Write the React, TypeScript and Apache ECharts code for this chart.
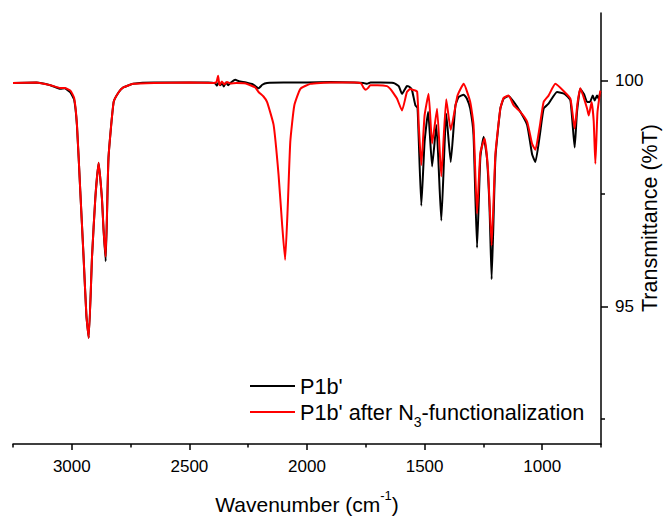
import React, { useEffect, useRef } from 'react';
import * as echarts from 'echarts';

// Wavenumber (cm-1) and transmittance (%T) for P1b'
const blackWn = [3250, 3150, 3091, 3049, 3030, 3006, 2990, 2978, 2964, 2950, 2938, 2928, 2914, 2900, 2886, 2872, 2865, 2856, 2844, 2822, 2800, 2781, 2739, 2650, 2500, 2420, 2390, 2383, 2375, 2368, 2360, 2354, 2345, 2335, 2326, 2305, 2290, 2260, 2230, 2206, 2190, 2170, 2100, 2000, 1900, 1800, 1760, 1745, 1730, 1688, 1632, 1610, 1596, 1585, 1575, 1561, 1553, 1539, 1530, 1514, 1500, 1485, 1468, 1450, 1429, 1408, 1389, 1369, 1355, 1334, 1320, 1306, 1292, 1277, 1263, 1249, 1235, 1224, 1215, 1199, 1178, 1164, 1143, 1121, 1093, 1064, 1043, 1029, 1010, 994, 973, 937, 905, 880, 862, 852, 838, 822, 809, 797, 785, 777, 767, 760, 753];
const blackT = [99.95, 99.96, 99.9, 99.82, 99.83, 99.74, 99.58, 99.0, 97.56, 96.1, 94.8, 94.3, 96.1, 97.4, 98.18, 97.4, 96.7, 96.0, 98.29, 99.53, 99.75, 99.85, 99.93, 99.96, 99.96, 99.96, 99.94, 99.89, 99.97, 99.9, 99.95, 99.87, 99.96, 99.9, 99.95, 100.02, 99.99, 99.96, 99.92, 99.83, 99.91, 99.95, 99.96, 99.96, 99.97, 99.96, 99.95, 99.93, 99.96, 99.96, 99.95, 99.88, 99.71, 99.8, 99.88, 99.85, 99.78, 99.45, 99.4, 97.23, 98.65, 99.31, 98.1, 99.02, 96.9, 99.27, 98.2, 99.45, 99.64, 99.69, 99.6, 99.38, 98.8, 96.3, 98.3, 98.76, 98.29, 97.19, 95.6, 98.29, 99.38, 99.6, 99.66, 99.53, 99.31, 99.02, 98.37, 98.2, 98.8, 99.38, 99.49, 99.75, 99.71, 99.56, 98.52, 99.31, 99.82, 99.7, 99.53, 99.53, 99.67, 99.56, 99.67, 99.6, 99.75];

// Wavenumber (cm-1) and transmittance (%T) for P1b' after N3-functionalization
const redWn = [3250, 3150, 3091, 3049, 3030, 3006, 2990, 2978, 2964, 2950, 2938, 2928, 2914, 2900, 2886, 2872, 2865, 2856, 2844, 2822, 2800, 2781, 2739, 2650, 2500, 2400, 2385, 2378, 2372, 2362, 2352, 2340, 2326, 2300, 2260, 2241, 2220, 2206, 2185, 2170, 2142, 2121, 2106, 2093, 2082, 2071, 2054, 2028, 1986, 1900, 1800, 1770, 1759, 1750, 1740, 1731, 1700, 1660, 1646, 1632, 1617, 1596, 1575, 1561, 1553, 1532, 1525, 1514, 1500, 1483, 1468, 1447, 1429, 1408, 1389, 1360, 1334, 1306, 1292, 1277, 1263, 1245, 1230, 1215, 1199, 1178, 1164, 1143, 1121, 1093, 1064, 1043, 1029, 1010, 994, 973, 944, 905, 880, 862, 850, 838, 809, 802, 790, 781, 774, 765, 753];
const redT = [99.95, 99.96, 99.9, 99.84, 99.84, 99.78, 99.62, 99.02, 97.56, 96.1, 94.8, 94.3, 96.1, 97.4, 98.18, 97.4, 96.7, 96.1, 98.29, 99.53, 99.75, 99.85, 99.93, 99.95, 99.96, 99.95, 99.97, 100.11, 99.9, 99.98, 99.92, 99.97, 99.94, 99.95, 99.94, 99.9, 99.85, 99.75, 99.65, 99.53, 99.02, 97.92, 96.83, 96.03, 97.19, 98.65, 99.45, 99.82, 99.93, 99.96, 99.96, 99.94, 99.84, 99.8, 99.84, 99.9, 99.9, 99.88, 99.82, 99.72, 99.6, 99.34, 99.75, 99.82, 99.8, 99.76, 99.02, 98.13, 99.23, 99.71, 98.61, 99.38, 97.88, 99.59, 98.91, 99.67, 99.93, 99.53, 99.02, 97.05, 98.4, 98.72, 98.0, 96.35, 98.37, 99.38, 99.62, 99.67, 99.45, 99.31, 99.09, 98.6, 98.47, 99.0, 99.53, 99.67, 99.93, 99.75, 99.6, 98.94, 99.5, 99.83, 99.38, 99.23, 99.53, 99.1, 98.16, 99.3, 99.78];

const seriesNames = ["P1b'", "P1b' after N3-functionalization"];
const seriesColors = ['#000000', '#ff0000'];

const xMajorTicks = [3000, 2500, 2000, 1500, 1000];
const xMinorTicks = [3250, 2750, 2250, 1750, 1250, 750];
const yMajorTicks = [95, 100];
const yMinorTicks = [92.5, 97.5];

const FONT = "'Liberation Sans', Arial, Helvetica, sans-serif";

export default function App() {
  const ref = useRef<HTMLDivElement>(null);

  useEffect(() => {
    document.body.style.margin = '0';
    if (!ref.current) return;
    const chart = echarts.init(ref.current, undefined, { renderer: 'svg' });

    const zip = (a: number[], b: number[]) => a.map((v, i) => [v, b[i]]);
    const xBase = {
      type: 'value' as const,
      min: 750,
      max: 3250,
      inverse: true,
      position: 'bottom' as const,
      splitLine: { show: false },
    };
    const yBase = {
      type: 'value' as const,
      min: 91.95,
      max: 101.5,
      position: 'right' as const,
      splitLine: { show: false },
    };

    const option: any = {
      animation: false,
      backgroundColor: '#ffffff',
      grid: { left: 13, right: 64, top: 13, bottom: 70, containLabel: false },
      xAxis: [
        {
          ...xBase,
          axisLine: { show: true, onZero: false, lineStyle: { color: '#000', width: 1.5 } },
          axisTick: { show: true, customValues: xMajorTicks, length: 6, lineStyle: { color: '#000', width: 1.5 } },
          axisLabel: {
            customValues: xMajorTicks,
            formatter: (v: number) => String(v),
            fontSize: 17,
            color: '#000',
            margin: 14,
            fontFamily: FONT,
          },
          name: '{t|Wavenumber (cm}{sup|-1}{t|)}',
          nameLocation: 'middle',
          nameGap: 45,
          nameTextStyle: {
            color: '#000',
            fontFamily: FONT,
            rich: {
              t: { fontSize: 21, color: '#000', fontFamily: FONT, verticalAlign: 'bottom', lineHeight: 26 },
              sup: { fontSize: 13, color: '#000', fontFamily: FONT, verticalAlign: 'top', lineHeight: 14 },
            },
          },
        },
        {
          ...xBase,
          axisLine: { show: false, onZero: false },
          axisTick: { show: true, customValues: xMinorTicks, length: 3.5, lineStyle: { color: '#000', width: 1.5 } },
          axisLabel: { show: false },
        },
      ],
      yAxis: [
        {
          ...yBase,
          axisLine: { show: true, onZero: false, lineStyle: { color: '#000', width: 1.5 } },
          axisTick: { show: true, customValues: yMajorTicks, length: 7, lineStyle: { color: '#000', width: 1.5 } },
          axisLabel: {
            customValues: yMajorTicks,
            formatter: (v: number) => String(v),
            fontSize: 17,
            color: '#000',
            margin: 14,
            fontFamily: FONT,
          },
        },
        {
          ...yBase,
          axisLine: { show: false, onZero: false },
          axisTick: { show: true, customValues: yMinorTicks, length: 4, lineStyle: { color: '#000', width: 1.5 } },
          axisLabel: { show: false },
        },
      ],
      legend: {
        orient: 'vertical',
        left: 250,
        top: 373,
        padding: 0,
        icon: 'rect',
        itemWidth: 45,
        itemHeight: 2,
        itemGap: 0,
        data: seriesNames,
        formatter: (name: string) =>
          name === seriesNames[0]
            ? `{a|${name}}`
            : "{a|P1b' after N}{sub|3}{a|-functionalization}",
        textStyle: {
          color: '#000',
          fontFamily: FONT,
          fontSize: 21.7,
          lineHeight: 26,
          rich: {
            a: { fontSize: 21.7, color: '#000', fontFamily: FONT, lineHeight: 26 },
            sub: { fontSize: 14, color: '#000', fontFamily: FONT, verticalAlign: 'bottom', lineHeight: 14, padding: [0, 0, -4, 0] },
          },
        },
      },
      graphic: [
        {
          type: 'text',
          x: 650,
          y: 218,
          rotation: Math.PI / 2,
          style: {
            text: 'Transmittance (%T)',
            fontSize: 21.5,
            fontFamily: FONT,
            fill: '#000',
            align: 'center',
            verticalAlign: 'middle',
          },
        },
      ],
      series: [
        {
          name: seriesNames[0],
          type: 'line',
          xAxisIndex: 0,
          yAxisIndex: 0,
          data: zip(blackWn, blackT),
          symbol: 'none',
          showSymbol: false,
          smooth: 0.15,
          lineStyle: { color: seriesColors[0], width: 2 },
          itemStyle: { color: seriesColors[0] },
        },
        {
          name: seriesNames[1],
          type: 'line',
          xAxisIndex: 0,
          yAxisIndex: 0,
          data: zip(redWn, redT),
          symbol: 'none',
          showSymbol: false,
          smooth: 0.15,
          lineStyle: { color: seriesColors[1], width: 2 },
          itemStyle: { color: seriesColors[1] },
        },
      ],
    };

    chart.setOption(option);
    return () => chart.dispose();
  }, []);

  return <div ref={ref} style={{ width: 665, height: 520 }} />;
}
